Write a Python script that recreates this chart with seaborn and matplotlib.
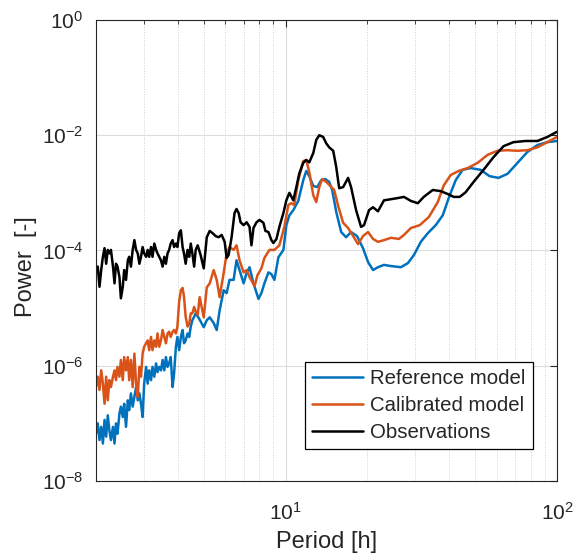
"""
Power spectra of the reference model, the calibrated model and observations.
"""

import numpy as np
import pandas as pd
import matplotlib
matplotlib.use("Agg")
import matplotlib.pyplot as plt
from matplotlib.ticker import FixedLocator, NullLocator, LogLocator, NullFormatter
import seaborn as sns

# ----------------------------
# DATA (periods in hours, power as log10 values)
# ----------------------------
period_low = [2.00, 2.03, 2.06, 2.09, 2.12, 2.15, 2.18, 2.21, 2.24, 2.27,
              2.31, 2.34, 2.37, 2.40, 2.44, 2.47, 2.51, 2.54, 2.58, 2.62,
              2.65, 2.69, 2.73, 2.77, 2.81, 2.85, 2.89, 2.93, 2.97, 3.01,
              3.06, 3.10, 3.14, 3.19, 3.23, 3.28, 3.33, 3.37, 3.42, 3.47,
              3.52, 3.57, 3.62, 3.67, 3.72, 3.77, 3.83, 3.88, 3.94, 3.99,
              4.05, 4.11, 4.17, 4.22, 4.28, 4.35, 4.41, 4.47, 4.53, 4.60,
              4.66]

obs_low = [-4.34, -4.28, -4.63, -4.34, -4.11, -3.96, -4.23, -3.99, -4.05, -3.99,
           -4.28, -4.57, -4.23, -4.28, -4.46, -4.83, -4.63, -4.34, -4.51, -4.17,
           -4.11, -4.28, -3.99, -3.82, -3.99, -4.05, -4.23, -4.11, -3.94, -4.05,
           -4.11, -3.99, -4.11, -3.94, -4.11, -3.88, -3.99, -4.05, -4.11, -4.17,
           -4.28, -4.11, -4.23, -4.05, -3.99, -3.88, -3.82, -3.94, -3.88, -3.94,
           -3.70, -3.65, -3.94, -4.05, -4.23, -3.99, -4.11, -3.88, -4.05, -4.28,
           -3.99]

cal_low = [-6.37, -6.19, -6.42, -6.08, -6.31, -6.66, -6.19, -6.60, -6.25, -6.37,
           -6.19, -6.08, -6.25, -6.02, -6.19, -5.90, -6.25, -5.85, -6.08, -5.85,
           -6.25, -5.90, -6.37, -5.79, -6.31, -6.54, -6.02, -6.19, -5.79, -5.67,
           -5.61, -5.56, -5.73, -5.50, -5.73, -5.56, -5.67, -5.44, -5.67, -5.56,
           -5.38, -5.50, -5.61, -5.44, -5.41, -5.50, -5.41, -5.38, -5.44, -5.32,
           -4.89, -4.69, -4.65, -4.80, -5.15, -5.32, -5.27, -5.09, -5.09, -4.98,
           -5.06]

ref_low = [-7.18, -7.00, -7.29, -7.06, -7.35, -6.94, -7.23, -6.86, -7.12, -7.29,
           -7.06, -7.35, -7.00, -7.18, -6.83, -6.71, -6.89, -6.66, -7.06, -6.60,
           -6.77, -6.48, -6.71, -6.54, -6.37, -6.60, -6.48, -6.66, -6.89, -6.31,
           -6.02, -6.31, -6.08, -6.25, -6.02, -6.19, -5.96, -6.11, -6.02, -6.08,
           -5.90, -6.08, -5.85, -6.02, -5.96, -5.85, -6.37, -6.13, -5.67, -5.50,
           -5.73, -5.50, -5.38, -5.61, -5.56, -5.44, -5.50, -5.32, -5.21, -5.15,
           -5.09]

obs_period_hi = [4.74, 4.86, 4.99, 5.12, 5.25, 5.38, 5.52, 5.66, 5.81, 5.96,
                 6.06, 6.16, 6.32, 6.48, 6.59, 6.71, 6.82, 7.00, 7.18, 7.36,
                 7.48, 7.61, 7.81, 8.01, 8.28, 8.42, 8.64, 8.86, 9.01, 9.25,
                 9.48, 9.81, 10.06, 10.32, 10.67, 10.95, 11.23, 11.61, 11.91, 12.22,
                 12.64, 12.97, 13.30, 13.75, 14.11, 14.47, 14.97, 15.36, 15.75, 16.29,
                 16.99, 17.42, 18.18, 18.96, 19.45, 20.29, 20.99, 21.89, 23.03, 24.43,
                 25.93, 27.29, 28.94, 30.70, 32.29, 34.85, 37.29, 39.56, 41.62, 43.79,
                 46.06, 49.28, 53.63, 58.36, 63.53, 69.13, 76.48, 84.67, 92.13, 100.0]
obs_hi = [-3.91, -4.08, -4.31, -3.77, -3.66, -3.70, -3.75, -3.77, -3.73, -3.85,
          -4.13, -4.08, -3.77, -3.35, -3.28, -3.35, -3.51, -3.56, -3.51, -3.59,
          -3.91, -3.61, -3.51, -3.47, -3.52, -3.66, -3.68, -3.82, -3.87, -3.80,
          -3.59, -3.35, -3.13, -3.00, -3.13, -2.90, -2.66, -2.48, -2.43, -2.47,
          -2.31, -2.08, -2.00, -2.03, -2.14, -2.21, -2.27, -2.55, -2.92, -2.90,
          -2.74, -2.90, -3.30, -3.59, -3.56, -3.30, -3.25, -3.32, -3.13, -3.11,
          -3.09, -3.07, -3.14, -3.18, -3.07, -2.95, -2.97, -3.02, -3.07, -3.07,
          -2.99, -2.81, -2.60, -2.38, -2.19, -2.12, -2.10, -2.10, -2.03, -1.94]

cal_period_hi = [4.74, 4.82, 4.99, 5.12, 5.25, 5.43, 5.57, 5.71, 5.91, 6.06,
                 6.21, 6.43, 6.59, 6.76, 7.00, 7.18, 7.36, 7.68, 7.87, 8.14,
                 8.35, 8.71, 9.09, 9.48, 9.89, 10.23, 10.49, 10.76, 11.13, 11.61,
                 11.91, 12.22, 12.64, 12.97, 13.30, 13.64, 14.11, 14.59, 15.10, 15.62,
                 16.29, 16.99, 17.72, 18.49, 19.28, 20.12, 20.99, 21.89, 23.03, 24.43,
                 26.15, 27.29, 28.94, 31.22, 33.70, 36.36, 38.25, 40.58, 43.42, 46.86,
                 50.98, 55.48, 60.38, 65.72, 71.51, 77.82, 84.67, 92.13, 100.0]
cal_hi = [-5.12, -4.81, -5.16, -4.64, -4.57, -4.34, -4.51, -4.81, -4.39, -4.05,
          -3.94, -3.99, -3.91, -4.17, -4.38, -4.34, -4.46, -4.62, -4.43, -4.31,
          -4.13, -3.99, -3.99, -3.91, -3.59, -3.21, -3.18, -3.21, -2.78, -2.45,
          -2.43, -2.64, -3.04, -3.16, -2.90, -2.76, -2.81, -2.88, -2.95, -3.23,
          -3.52, -3.61, -3.75, -3.89, -3.75, -3.68, -3.80, -3.85, -3.82, -3.78,
          -3.80, -3.73, -3.61, -3.56, -3.42, -3.16, -2.87, -2.69, -2.62, -2.57,
          -2.48, -2.34, -2.27, -2.26, -2.27, -2.26, -2.21, -2.12, -2.03]

ref_period_hi = [4.78, 4.99, 5.12, 5.25, 5.43, 5.57, 5.71, 5.91, 6.06, 6.21,
                 6.43, 6.59, 6.76, 7.00, 7.18, 7.36, 7.61, 7.94, 8.14, 8.35,
                 8.64, 8.86, 9.09, 9.40, 9.81, 10.06, 10.32, 10.67, 11.13, 11.61,
                 11.91, 12.22, 12.64, 13.07, 13.52, 13.99, 14.47, 14.84, 15.36, 16.02,
                 16.70, 17.42, 18.33, 19.28, 20.12, 20.99, 21.89, 23.03, 24.43, 26.59,
                 28.21, 29.69, 31.49, 33.41, 35.74, 37.93, 39.90, 42.33, 44.91, 48.05,
                 52.29, 56.41, 60.89, 65.72, 71.51, 77.82, 84.67, 92.13, 100.0]
ref_hi = [-5.17, -5.33, -5.21, -5.16, -5.26, -5.38, -5.04, -4.69, -4.74, -4.51,
          -4.51, -4.17, -4.34, -4.57, -4.39, -4.29, -4.57, -4.84, -4.74, -4.57,
          -4.38, -4.41, -4.51, -4.12, -3.99, -3.56, -3.39, -3.30, -3.14, -2.78,
          -2.62, -2.71, -2.88, -2.90, -2.78, -2.76, -2.81, -2.95, -3.33, -3.68,
          -3.77, -3.68, -3.75, -3.96, -4.20, -4.34, -4.29, -4.25, -4.27, -4.29,
          -4.22, -4.08, -3.85, -3.70, -3.56, -3.39, -3.09, -2.78, -2.60, -2.57,
          -2.60, -2.71, -2.74, -2.67, -2.48, -2.29, -2.17, -2.12, -2.10]

series_names = ["Reference model", "Calibrated model", "Observations"]
series_colors = ["#0072BD", "#D95319", "#000000"]


def build_frame():
    """Stack the three spectra into one long DataFrame."""
    parts = [
        (series_names[0], period_low + ref_period_hi, ref_low + ref_hi),
        (series_names[1], period_low + cal_period_hi, cal_low + cal_hi),
        (series_names[2], period_low + obs_period_hi, obs_low + obs_hi),
    ]
    frames = []
    for name, per, logp in parts:
        frames.append(pd.DataFrame({
            "Period": per,
            "Power": 10.0 ** np.asarray(logp),
            "Series": name,
        }))
    return pd.concat(frames, ignore_index=True)


def main():
    df = build_frame()

    sns.set_style("white")
    plt.rcParams["font.family"] = ["Liberation Sans", "DejaVu Sans"]
    plt.rcParams["mathtext.fontset"] = "custom"
    plt.rcParams["mathtext.rm"] = "Liberation Sans"
    plt.rcParams["mathtext.it"] = "Liberation Sans:italic"

    fig = plt.figure(figsize=(5.77, 5.58), dpi=100)
    ax = fig.add_axes([0.1664, 0.1380, 0.7989, 0.8262])

    sns.lineplot(data=df, x="Period", y="Power", hue="Series",
                 hue_order=series_names, palette=series_colors,
                 estimator=None, sort=False, linewidth=1.8, ax=ax)

    ax.set_xscale("log")
    ax.set_yscale("log")
    ax.set_xlim(2, 100)
    ax.set_ylim(1e-8, 1)

    ax.yaxis.set_major_locator(FixedLocator([1e-8, 1e-6, 1e-4, 1e-2, 1]))
    ax.yaxis.set_minor_locator(NullLocator())
    ax.xaxis.set_major_locator(LogLocator(base=10))
    ax.xaxis.set_minor_locator(LogLocator(base=10, subs=np.arange(2, 10)))
    ax.xaxis.set_minor_formatter(NullFormatter())

    ax.grid(which="major", color="#dcdcdc", linewidth=0.8)
    ax.xaxis.grid(which="minor", color="#cfcfcf", linewidth=0.7, linestyle=":")
    ax.set_axisbelow(True)

    for spine in ax.spines.values():
        spine.set_color("#262626")
        spine.set_linewidth(0.8)
    ax.tick_params(which="both", direction="in", top=True, right=True,
                   colors="#262626", labelcolor="#262626", labelsize=15)
    ax.tick_params(which="major", length=5, width=0.8)
    ax.tick_params(which="minor", length=3, width=0.6)
    ax.tick_params(axis="x", which="major", pad=15)
    ax.tick_params(axis="y", which="major", pad=9)

    ax.set_xlabel("Period [h]", fontsize=17, color="#262626", labelpad=5)
    ax.set_ylabel("Power  [-]", fontsize=17, color="#262626")
    ax.yaxis.set_label_coords(-0.128, 0.464)

    handles, labels = ax.get_legend_handles_labels()
    leg = ax.legend(handles, labels, loc="lower right",
                    bbox_to_anchor=(0.948, 0.069), fontsize=14.7,
                    frameon=True, fancybox=False, framealpha=1,
                    edgecolor="black", handlelength=2.5,
                    borderpad=0.35, labelspacing=0.4, handletextpad=0.35,
                    borderaxespad=0)
    leg.get_frame().set_linewidth(0.9)

    fig.savefig("out.png", dpi=100)
    plt.close(fig)


if __name__ == "__main__":
    main()
